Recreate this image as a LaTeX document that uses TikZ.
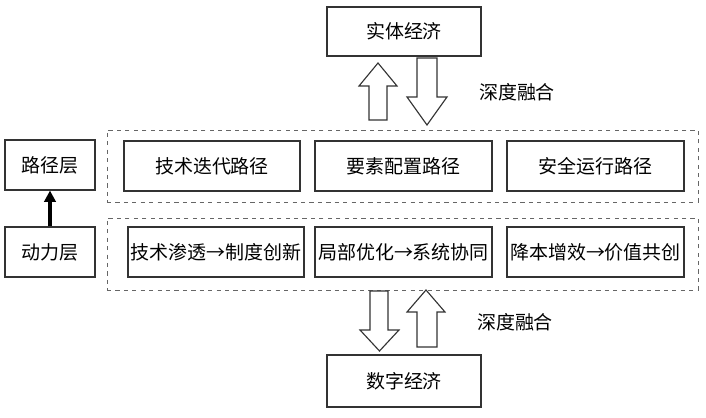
\documentclass[tikz,border=0pt]{standalone}
\usepackage{fontspec}
\newfontfamily\cjk{Noto Sans CJK SC}
\usetikzlibrary{arrows.meta}
\tikzset{
	box/.style={draw=black!80,line width=.8pt,font=\cjk\fontsize{13.5}{16}\selectfont,inner sep=0pt,minimum height=1.25cm},
	group/.style={draw=black!60,dashed,line width=.6pt,minimum width=14.775cm,minimum height=1.8cm},
	fat/.style={draw=black!80,line width=.8pt,fill=white}
}
\begin{document}
\begin{tikzpicture}[x=0.025cm,y=-0.025cm]
		\useasboundingbox (0,0) rectangle (706,418);
		\node[group] (G1) at (402.5,166) {};
		\node[group] (G2) at (402.5,254) {};
		\node[box,minimum width=3.85cm,minimum height=1.225cm] (SE) at (404,31.5) {实体经济};
		\node[box,minimum width=3.85cm,minimum height=1.3cm] (DE) at (404,381) {数字经济};
		\node[box,minimum width=2.25cm] (PL) at (50,165) {路径层};
		\node[box,minimum width=2.25cm] (DL) at (50,252) {动力层};
		\node[box,minimum width=4.4cm] (P1) at (212,166) {技术迭代路径};
		\node[box,minimum width=4.425cm] (P2) at (403.5,166) {要素配置路径};
		\node[box,minimum width=4.425cm] (P3) at (595.5,166) {安全运行路径};
		\node[box,minimum width=4.4cm] (D1) at (216,252) {技术渗透→制度创新};
		\node[box,minimum width=4.425cm] (D2) at (403.5,252) {局部优化→系统协同};
		\node[box,minimum width=4.425cm] (D3) at (595.5,252) {降本增效→价值共创};
		\node[font=\cjk\fontsize{13.5}{16}\selectfont] (F1) at (517,92) {深度融合};
		\node[font=\cjk\fontsize{13.5}{16}\selectfont] (F2) at (515,322) {深度融合};
		\draw[-{Triangle[length=8pt,width=8pt]},line width=2.3pt] (DL) -- (PL);
		\draw[fat] (369,120) -- (369,86) -- (359,86) -- (378,63) -- (397,86) -- (387,86) -- (387,120) -- cycle;
		\draw[fat] (417,58) -- (417,97) -- (407,97) -- (427,125) -- (447,97) -- (437,97) -- (437,58) -- cycle;
		\draw[fat] (370,291) -- (370,330) -- (360,330) -- (379.5,351) -- (399,330) -- (388,330) -- (388,291) -- cycle;
		\draw[fat] (417,347) -- (417,312) -- (407,312) -- (426,290) -- (445,312) -- (437,312) -- (437,347) -- cycle;
	\end{tikzpicture}
\end{document}
